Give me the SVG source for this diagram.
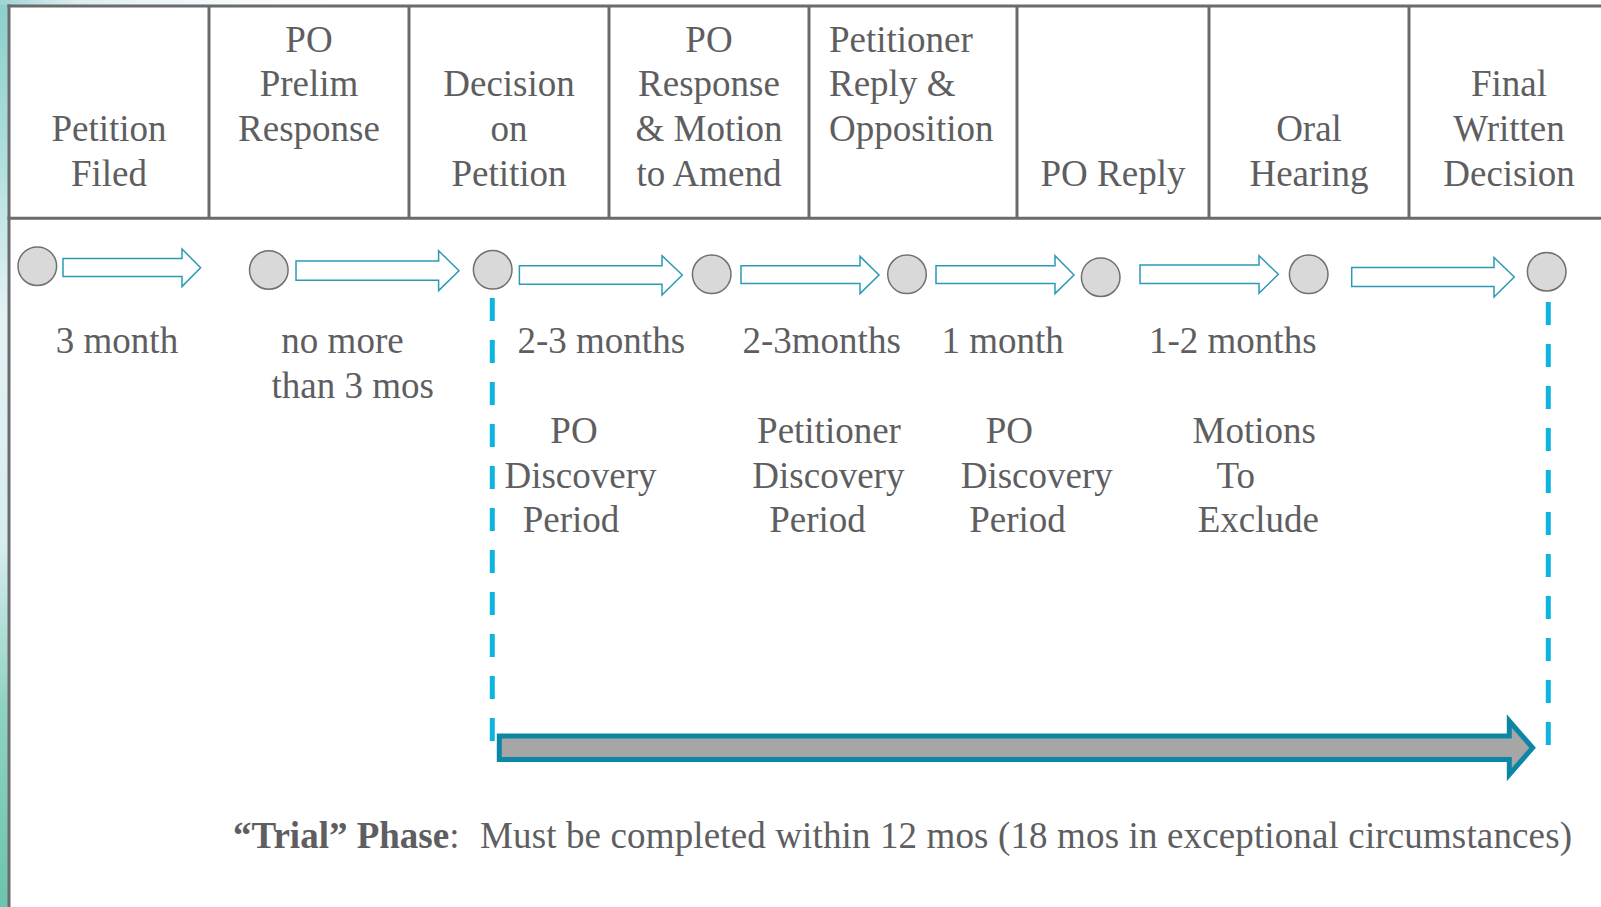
<svg xmlns="http://www.w3.org/2000/svg" width="1601" height="907" viewBox="0 0 1601 907">
<style>
.t{font-family:"Liberation Serif","Times New Roman",serif;font-size:37px;fill:#5e5e61}
.m{text-anchor:middle}
.b{font-weight:bold}
.grid{stroke:#6b6b6d;stroke-width:3;fill:none}
.dot{fill:#d9d9d9;stroke:#707072;stroke-width:1.5}
.blk{fill:#ffffff;stroke:#2a9ab6;stroke-width:1.5;stroke-linejoin:miter}
.dash{stroke:#0db4e0;stroke-width:5;stroke-dasharray:23 19;fill:none}
</style>
<defs>
<linearGradient id="wc" x1="0" y1="0" x2="0" y2="1">
<stop offset="0" stop-color="#8ccfcb"/>
<stop offset="0.15" stop-color="#a9dcd9"/>
<stop offset="0.35" stop-color="#e4f2f5"/>
<stop offset="0.6" stop-color="#d6edef"/>
<stop offset="0.78" stop-color="#8fd2c2"/>
<stop offset="1" stop-color="#6cc4ae"/>
</linearGradient>
<linearGradient id="wt" x1="0" y1="0" x2="1" y2="0">
<stop offset="0" stop-color="#9fd3d3"/>
<stop offset="0.2" stop-color="#cfe6ea" stop-opacity="0.7"/>
<stop offset="1" stop-color="#ffffff" stop-opacity="0"/>
</linearGradient>
</defs>
<rect x="0" y="0" width="1601" height="907" fill="#ffffff"/>
<rect x="0" y="0" width="9" height="907" fill="url(#wc)"/>
<rect x="0" y="0" width="400" height="5" fill="url(#wt)"/>

<g id="table">
<line class="grid" x1="7.5" y1="6" x2="1601" y2="6"/>
<line class="grid" x1="7.5" y1="218.3" x2="1601" y2="218.3"/>
<line class="grid" x1="9" y1="4.5" x2="9" y2="907"/>
<line class="grid" x1="209" y1="6" x2="209" y2="218.3"/>
<line class="grid" x1="409" y1="6" x2="409" y2="218.3"/>
<line class="grid" x1="609" y1="6" x2="609" y2="218.3"/>
<line class="grid" x1="809" y1="6" x2="809" y2="218.3"/>
<line class="grid" x1="1017" y1="6" x2="1017" y2="218.3"/>
<line class="grid" x1="1209" y1="6" x2="1209" y2="218.3"/>
<line class="grid" x1="1409" y1="6" x2="1409" y2="218.3"/>
</g>

<g id="h-petition-filed"><text class="t m" x="109"><tspan x="109" y="141">Petition</tspan><tspan x="109" y="185.6">Filed</tspan></text></g>
<g id="h-po-prelim"><text class="t m" x="309"><tspan x="309" y="51.8">PO</tspan><tspan x="309" y="96.4">Prelim</tspan><tspan x="309" y="141">Response</tspan></text></g>
<g id="h-decision"><text class="t m" x="509"><tspan x="509" y="96.4">Decision</tspan><tspan x="509" y="141">on</tspan><tspan x="509" y="185.6">Petition</tspan></text></g>
<g id="h-po-response"><text class="t m" x="709"><tspan x="709" y="51.8">PO</tspan><tspan x="709" y="96.4">Response</tspan><tspan x="709" y="141">&amp; Motion</tspan><tspan x="709" y="185.6">to Amend</tspan></text></g>
<g id="h-pet-reply"><text class="t" x="829"><tspan x="829" y="51.8">Petitioner</tspan><tspan x="829" y="96.4">Reply &amp;</tspan><tspan x="829" y="141">Opposition</tspan></text></g>
<g id="h-po-reply"><text class="t m" x="1113" y="185.6">PO Reply</text></g>
<g id="h-oral"><text class="t m" x="1309"><tspan x="1309" y="141">Oral</tspan><tspan x="1309" y="185.6">Hearing</tspan></text></g>
<g id="h-final"><text class="t m" x="1509"><tspan x="1509" y="96.4">Final</tspan><tspan x="1509" y="141">Written</tspan><tspan x="1509" y="185.6">Decision</tspan></text></g>

<g id="dot1"><circle class="dot" cx="37.3" cy="266.2" r="19.3"/></g>
<g id="dot2"><circle class="dot" cx="268.8" cy="270" r="19.3"/></g>
<g id="dot3"><circle class="dot" cx="492.7" cy="269.8" r="19.3"/></g>
<g id="dot4"><circle class="dot" cx="711.7" cy="274.3" r="19.3"/></g>
<g id="dot5"><circle class="dot" cx="907" cy="274.3" r="19.3"/></g>
<g id="dot6"><circle class="dot" cx="1100.7" cy="277.2" r="19.3"/></g>
<g id="dot7"><circle class="dot" cx="1308.7" cy="274.3" r="19.3"/></g>
<g id="dot8"><circle class="dot" cx="1546.7" cy="271.7" r="19.3"/></g>

<g id="connectors">
<path class="blk" d="M63,258.4 H182 V249 L200.6,267.7 L182,286.6 V276.6 H63 Z"/>
<path class="blk" d="M296,261 H438.6 V250.7 L459,270.7 L438.6,290.6 V280.3 H296 Z"/>
<path class="blk" d="M519.4,265.7 H662 V255.7 L682.3,275 L662,295 V284.3 H519.4 Z"/>
<path class="blk" d="M741,265.7 H860 V256.4 L879,275 L860,293.6 V283.6 H741 Z"/>
<path class="blk" d="M936,265.7 H1055 V255.7 L1074,275 L1055,293.6 V283.6 H936 Z"/>
<path class="blk" d="M1140,265 H1259 V255.7 L1278.3,274.3 L1259,293.3 V283.6 H1140 Z"/>
<path class="blk" d="M1351.7,267.4 H1494 V257.4 L1514.3,277 L1494,297 V286.6 H1351.7 Z"/>
<line class="dash" x1="492.3" y1="298" x2="492.3" y2="742"/>
<line class="dash" x1="1548.3" y1="302" x2="1548.3" y2="746"/>
<path d="M499.3,736 H1509.3 V721 L1532.6,747.8 L1509.3,774.6 V759.6 H499.3 Z" fill="#a6a6a6" stroke="#0b87a5" stroke-width="5" stroke-linejoin="miter"/>
</g>

<g id="l-3month"><text class="t m" x="117" y="353">3 month</text></g>
<g id="l-nomore"><text class="t m"><tspan x="342.5" y="353">no more</tspan><tspan x="352.8" y="398">than 3 mos</tspan></text></g>
<g id="l-23a"><text class="t" x="517.5" y="353">2-3 months</text></g>
<g id="l-23b"><text class="t" x="742.5" y="353">2-3months</text></g>
<g id="l-1m"><text class="t" x="941.5" y="353">1 month</text></g>
<g id="l-12m"><text class="t" x="1149" y="353">1-2 months</text></g>

<g id="l-po-disc"><text class="t m"><tspan x="574" y="443">PO</tspan><tspan x="580.5" y="487.5">Discovery</tspan><tspan x="571" y="532">Period</tspan></text></g>
<g id="l-pet-disc"><text class="t m"><tspan x="829" y="443">Petitioner</tspan><tspan x="828.4" y="487.5">Discovery</tspan><tspan x="817.5" y="532">Period</tspan></text></g>
<g id="l-po-disc2"><text class="t m"><tspan x="1009.3" y="443">PO</tspan><tspan x="1036.7" y="487.5">Discovery</tspan><tspan x="1017.5" y="532">Period</tspan></text></g>
<g id="l-motions"><text class="t m"><tspan x="1254.3" y="443">Motions</tspan><tspan x="1235.8" y="487.5">To</tspan><tspan x="1258.3" y="532">Exclude</tspan></text></g>

<g id="caption"><text class="t" x="233" y="847.5"><tspan class="b">“Trial” Phase</tspan><tspan>:</tspan><tspan x="480" textLength="1092" lengthAdjust="spacing">Must be completed within 12 mos (18 mos in exceptional circumstances)</tspan></text></g>
</svg>
